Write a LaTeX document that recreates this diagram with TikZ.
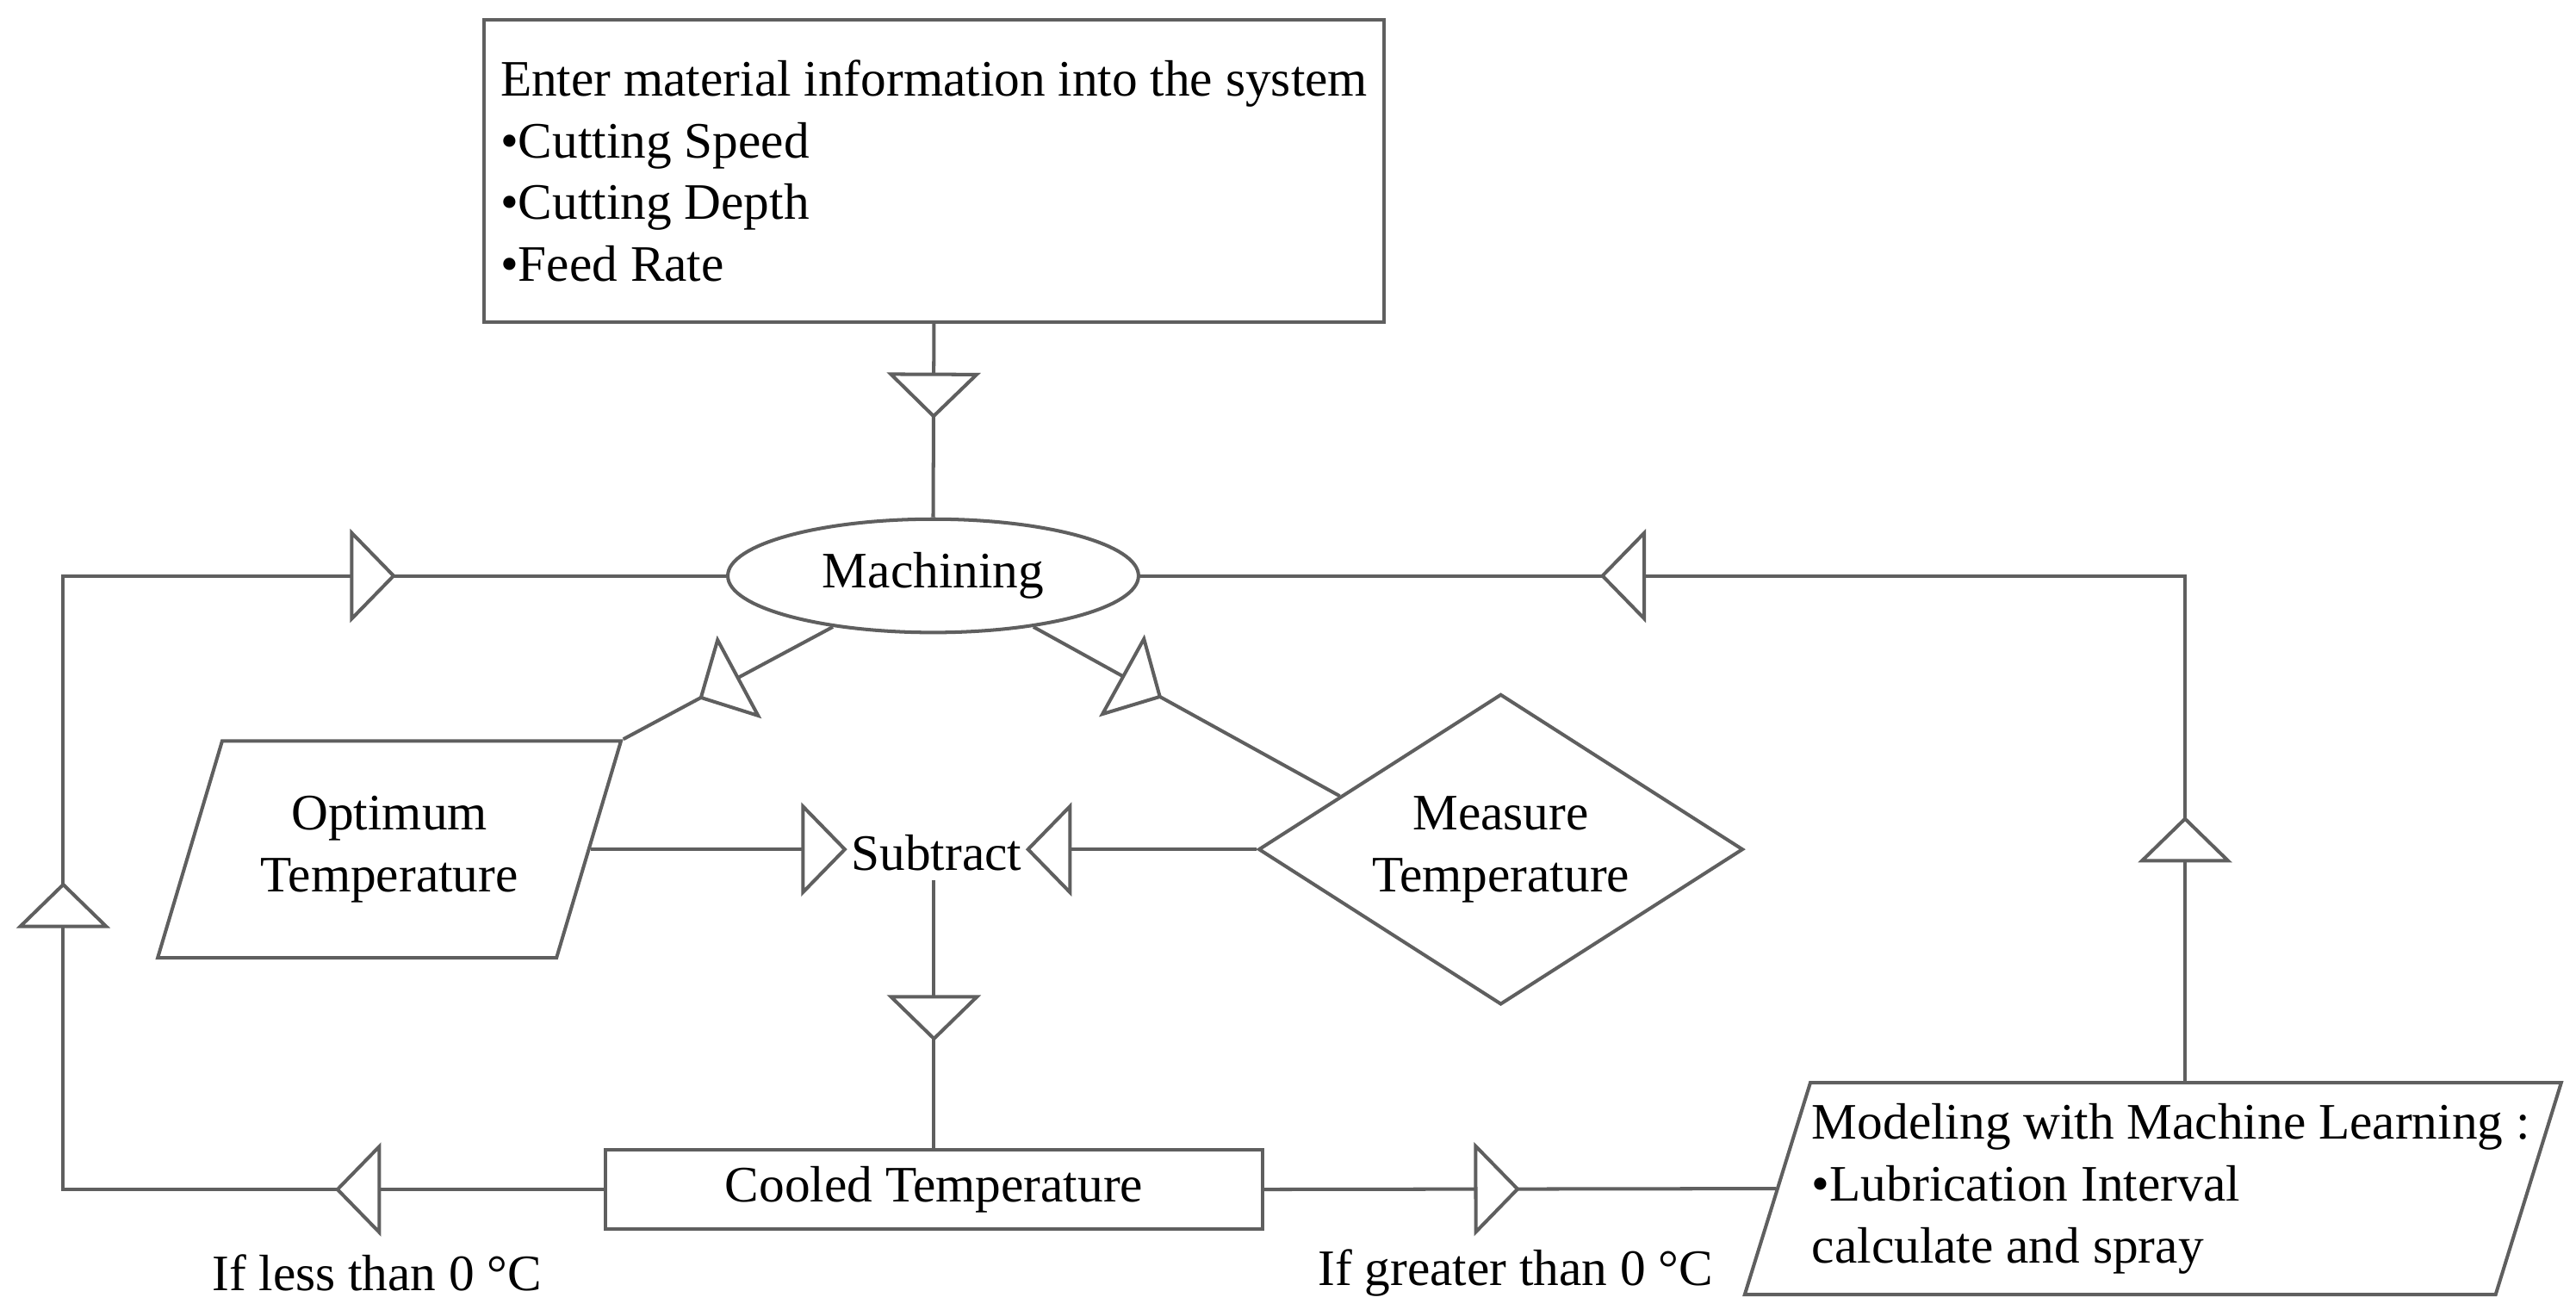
\documentclass[tikz,border=0pt]{standalone}
\usepackage{fontspec}
\setmainfont{Liberation Serif}
\usepackage{tikz}
\usetikzlibrary{calc}
\usetikzlibrary{arrows.meta}
\usetikzlibrary{shapes.geometric}
\usetikzlibrary{decorations.markings}

\definecolor{linegray}{RGB}{95,95,95}

\begin{document}
\begin{tikzpicture} [font=\fontsize{8.85}{10.7}\selectfont,
  flowtip/.tip={Triangle[fill=white, length=2.8mm, width=5.7mm]},
  flow/.style={draw=linegray, line width=0.6pt},
  tipat/.style={postaction={decorate, decoration={markings, mark=at position #1 with {\arrow{flowtip}}}}},
  box/.style={flow, rectangle, inner sep=0pt},
  slanted/.style={flow, trapezium, trapezium left angle=#1, trapezium right angle=180-#1, trapezium stretches body=true, inner sep=0pt}]
\useasboundingbox[fill=white] (0,0) rectangle (15.68,-8.01);

\node[box, minimum width=5.47cm, minimum height=1.84cm, inner xsep=1mm, align=left] (info) at (5.685,-1.04) {Enter material information into the system\\ •Cutting Speed\\ •Cutting Depth\\ •Feed Rate};
\node[flow, ellipse, minimum width=2.5cm, minimum height=0.69cm, inner sep=0pt] (mach) at (5.68,-3.505) {Machining};
\node[slanted=58.8, minimum width=2.82cm, minimum height=1.32cm, align=center] (opt) at (2.37,-5.17) {Optimum\\ Temperature};
\node[inner xsep=0.5pt, inner ysep=1.5pt] (subtr) at (5.70,-5.19) {Subtract};
\node[flow, diamond, aspect=1.56, minimum width=2.95cm, minimum height=1.89cm, inner sep=0pt, align=center] (meas) at (9.135,-5.17) {Measure\\ Temperature};
\node[box, minimum width=4.0cm, minimum height=0.48cm] (cool) at (5.685,-7.24) {Cooled Temperature};
\node[slanted=68.9, minimum width=4.97cm, minimum height=1.29cm, inner xsep=-2.4mm, align=left] (ml) at (13.105,-7.235) {\hspace*{2.2mm}Modeling with Machine Learning :\\ \hspace*{2.2mm}•Lubrication Interval\\ \hspace*{2.2mm}calculate and spray};

\node (less) at (2.295,-7.75) {If less than 0 °C};
\node (greater) at (9.225,-7.75) {If greater than 0 °C};

\coordinate (lbar) at (0.385,-5.2);
\coordinate (rbar) at (13.30,-5.0);

\draw[flow, tipat=0.49] (info.south) -- (mach.north);
\draw[flow, tipat=0.64] (mach.207) -- (opt.top right corner);
\draw[flow, tipat=0.42] (mach.333) -- ($(meas.west)!0.34!(meas.north)$);
\draw[flow, -flowtip] (opt.east) -- (opt.east -| subtr.west);
\draw[flow, -flowtip] (meas.west) -- (meas.west -| subtr.east);
\draw[flow, tipat=0.60] (subtr.south -| cool.north) -- (cool.north);
\draw[flow, tipat=0.50] (cool.east) -- (ml.west);

\draw[flow, tipat=1.635cm, tipat=5.16cm, tipat=9.05cm] (cool.west) -- (cool.west -| lbar) |- (mach.west);
\draw[flow, tipat=1.61cm, tipat=6.635cm] (ml.north -| rbar) |- (mach.east);

\end{tikzpicture}
\end{document}
